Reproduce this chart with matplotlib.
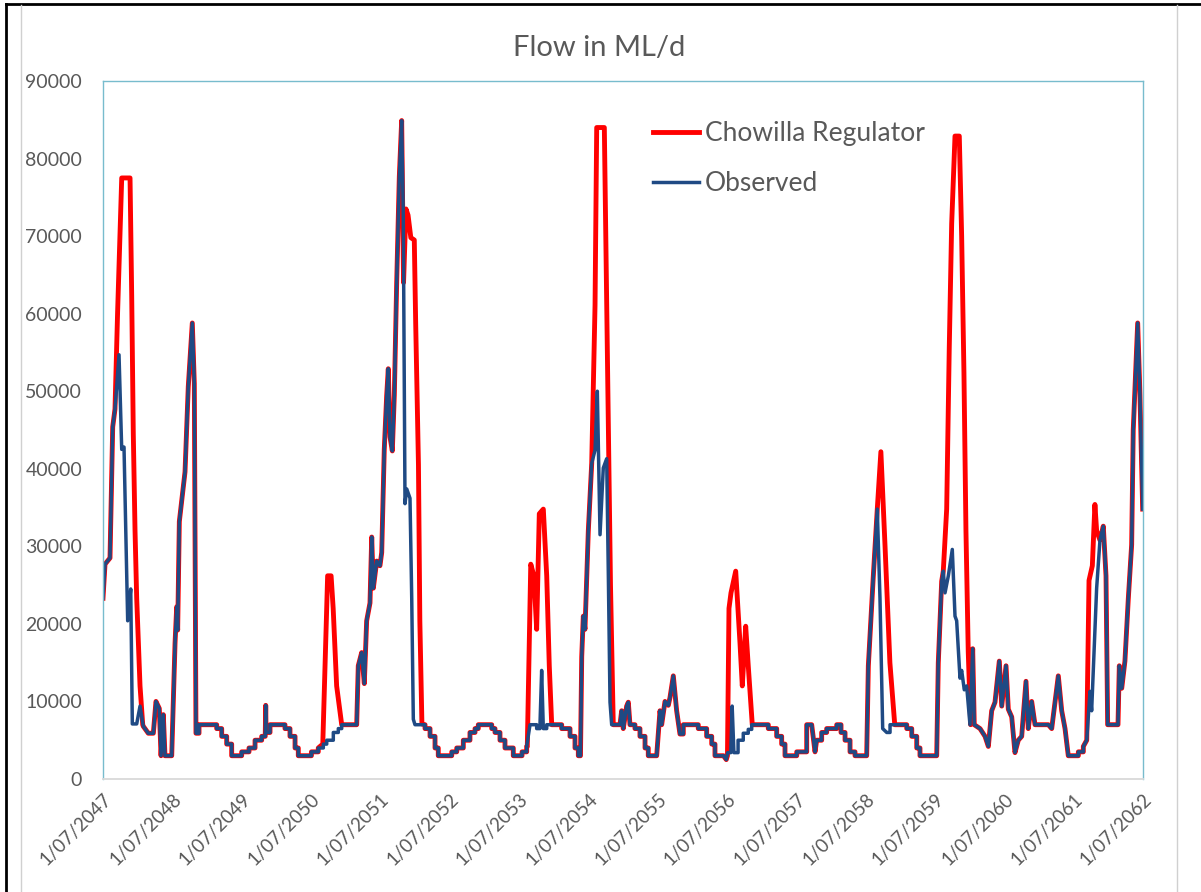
import numpy as np
import matplotlib
matplotlib.use("Agg")
import matplotlib.pyplot as plt
import matplotlib.dates as mdates
from matplotlib.lines import Line2D

plt.rcParams["font.family"] = ["Lato", "DejaVu Sans"]

# time in years after 1/07/2047, flow in ML/d
# third item: 1 = monthly step (flat, then jump), 0 = straight line to the point
observed = [
    (0.000, 23300, 0), (0.029, 27700, 0), (0.101, 28500, 0), (0.140, 45400, 0),
    (0.173, 47700, 0), (0.231, 54700, 0), (0.270, 42500, 0), (0.303, 42800, 0),
    (0.342, 26200, 0), (0.356, 20400, 0), (0.400, 24500, 0), (0.423, 7100, 0),
    (0.486, 7100, 0), (0.534, 9400, 0), (0.581, 6800, 0), (0.653, 5900, 0),
    (0.726, 5900, 0), (0.764, 10000, 0), (0.812, 9100, 0), (0.837, 3000, 0),
    (0.870, 8300, 0), (0.894, 3000, 0), (0.991, 3000, 0), (1.039, 17500, 0),
    (1.063, 22200, 0), (1.077, 19200, 0), (1.101, 33200, 0), (1.183, 39600, 0),
    (1.230, 50600, 0), (1.288, 58800, 0), (1.317, 51000, 0), (1.341, 5900, 0),
    (1.385, 7000, 1), (1.640, 6500, 1), (1.712, 5500, 1), (1.784, 4500, 1),
    (1.856, 3000, 1), (2.000, 3500, 1), (2.106, 4000, 1), (2.193, 5000, 1),
    (2.289, 5500, 1), (2.340, 5500, 0), (2.347, 9500, 0), (2.352, 6000, 0),
    (2.409, 7000, 1), (2.625, 6500, 1), (2.697, 5500, 1), (2.770, 4000, 1),
    (2.817, 3000, 1), (3.006, 3500, 1), (3.105, 4000, 1), (3.178, 4500, 1),
    (3.227, 5000, 1), (3.322, 6000, 1), (3.394, 6500, 1), (3.443, 7000, 1),
    (3.659, 7000, 0), (3.682, 14600, 0), (3.731, 16300, 0), (3.769, 12300, 0),
    (3.803, 20400, 0), (3.851, 22700, 0), (3.876, 31200, 0), (3.899, 24600, 0),
    (3.948, 28100, 0), (3.995, 27500, 0), (4.020, 29200, 0), (4.057, 42500, 0),
    (4.092, 49500, 0), (4.115, 52900, 0), (4.140, 44100, 0), (4.173, 42300, 0),
    (4.202, 49500, 0), (4.236, 64000, 0), (4.274, 77700, 0), (4.308, 84900, 0),
    (4.331, 72700, 0), (4.356, 35500, 0), (4.381, 37400, 0), (4.428, 36200, 0),
    (4.453, 23300, 0), (4.476, 7700, 0), (4.500, 7000, 0), (4.645, 6500, 1),
    (4.717, 5500, 1), (4.789, 4000, 1), (4.836, 3000, 1), (5.030, 3500, 1),
    (5.102, 4000, 1), (5.197, 5000, 1), (5.293, 6000, 1), (5.366, 6500, 1),
    (5.413, 7000, 1), (5.607, 6500, 1), (5.654, 6000, 1), (5.726, 5000, 1),
    (5.798, 4000, 1), (5.918, 3000, 1), (6.044, 3500, 1), (6.111, 4200, 1),
    (6.159, 7000, 0), (6.255, 6500, 1), (6.303, 7000, 1), (6.327, 14000, 0),
    (6.351, 6500, 0), (6.400, 7000, 1), (6.616, 6500, 1), (6.736, 5500, 1),
    (6.808, 4000, 1), (6.856, 3000, 1), (6.887, 3000, 0), (6.905, 15800, 0),
    (6.928, 21000, 0), (6.952, 19300, 0), (7.000, 32000, 0), (7.049, 40700, 0),
    (7.097, 42400, 0), (7.130, 50000, 0), (7.169, 31500, 0), (7.216, 40100, 0),
    (7.265, 41300, 0), (7.289, 26200, 0), (7.313, 9900, 0), (7.337, 7000, 0),
    (7.457, 7000, 0), (7.481, 8800, 0), (7.504, 6500, 0), (7.553, 9400, 0),
    (7.577, 9900, 0), (7.601, 7000, 0), (7.673, 6500, 1), (7.745, 5500, 1),
    (7.818, 4000, 1), (7.865, 3000, 1), (7.986, 3000, 0), (8.034, 8800, 0),
    (8.058, 7000, 0), (8.106, 10000, 0), (8.154, 9500, 0), (8.178, 10500, 0),
    (8.226, 13300, 0), (8.274, 8800, 0), (8.322, 5800, 0), (8.370, 7000, 1),
    (8.586, 6500, 1), (8.707, 5500, 1), (8.780, 4500, 1), (8.827, 3000, 1),
    (8.950, 3000, 0), (8.990, 2500, 0), (9.010, 3400, 0), (9.055, 3400, 0),
    (9.075, 9400, 0), (9.100, 3400, 0), (9.160, 5000, 1), (9.235, 5900, 1),
    (9.307, 6400, 1), (9.357, 7000, 1), (9.596, 6500, 1), (9.717, 5500, 1),
    (9.789, 4500, 1), (9.837, 3000, 1), (10.006, 3500, 1), (10.150, 7000, 1),
    (10.222, 7000, 0), (10.270, 3500, 0), (10.294, 5000, 0), (10.366, 6000, 1),
    (10.438, 6500, 1), (10.583, 7000, 1), (10.645, 6000, 1), (10.703, 5000, 1),
    (10.775, 3500, 1), (10.847, 3000, 1), (11.015, 3000, 0), (11.039, 14600, 0),
    (11.111, 26200, 0), (11.168, 34800, 0), (11.207, 23300, 0), (11.246, 6500, 0),
    (11.304, 6000, 0), (11.352, 7000, 1), (11.593, 6500, 1), (11.665, 5500, 1),
    (11.737, 4000, 1), (11.784, 3000, 1), (12.025, 3000, 0), (12.048, 15000, 0),
    (12.097, 25500, 0), (12.120, 26800, 0), (12.145, 24000, 0), (12.193, 26200, 0),
    (12.250, 29600, 0), (12.289, 21000, 0), (12.313, 20400, 0), (12.361, 13000, 0),
    (12.385, 14000, 0), (12.423, 11500, 0), (12.457, 12000, 0), (12.505, 7000, 0),
    (12.544, 16800, 0), (12.567, 7000, 0), (12.650, 6500, 0), (12.722, 5500, 0),
    (12.770, 4200, 0), (12.818, 8800, 0), (12.866, 9900, 0), (12.928, 15200, 0),
    (12.963, 9400, 0), (13.025, 14600, 0), (13.058, 9000, 0), (13.107, 8000, 0),
    (13.154, 3400, 0), (13.202, 5000, 0), (13.251, 5500, 0), (13.313, 12600, 0),
    (13.346, 6500, 0), (13.395, 10000, 0), (13.443, 7000, 0), (13.635, 7000, 0),
    (13.684, 6500, 0), (13.779, 13300, 0), (13.828, 8800, 0), (13.876, 6500, 0),
    (13.923, 3000, 0), (13.996, 3000, 0), (14.068, 3500, 1), (14.140, 4200, 1),
    (14.189, 5000, 0), (14.236, 11300, 0), (14.260, 8800, 0), (14.332, 24600, 0),
    (14.380, 30800, 0), (14.428, 32600, 0), (14.467, 26200, 0), (14.491, 7000, 0),
    (14.640, 7000, 0), (14.659, 14600, 0), (14.694, 11700, 0), (14.740, 15200, 0),
    (14.789, 23300, 0), (14.837, 30200, 0), (14.860, 45000, 0), (14.924, 58800, 0),
    (14.957, 49500, 0), (14.996, 34800, 0),
]

# Chowilla Regulator differs from observed only in these events
reg_2047 = [(0.173, 47700), (0.210, 60000), (0.270, 77500), (0.390, 77500), (0.414, 62300),
            (0.437, 44500), (0.462, 32000), (0.486, 23300), (0.534, 12000), (0.573, 7000)]
reg_2050 = [(3.170, 4500), (3.240, 26200), (3.290, 26200), (3.320, 22000), (3.370, 12000),
            (3.443, 7000)]
reg_2051 = [(4.308, 84900), (4.335, 64000), (4.370, 73500), (4.400, 72700), (4.440, 69800),
            (4.490, 69500), (4.510, 58800), (4.550, 40500), (4.570, 20400), (4.600, 7100)]
reg_2053 = [(6.120, 4200), (6.170, 27700), (6.215, 26200), (6.255, 19300), (6.293, 34200),
            (6.351, 34800), (6.400, 26200), (6.437, 14600), (6.472, 7000)]
reg_2054 = [(7.049, 40700), (7.097, 61100), (7.121, 84000), (7.231, 84000), (7.260, 65000),
            (7.290, 45000), (7.320, 25000), (7.360, 7000)]
reg_2056 = [(9.007, 3000), (9.029, 22000), (9.058, 24000), (9.126, 26800), (9.188, 17500),
            (9.221, 12000), (9.270, 19700), (9.307, 14600), (9.365, 7000)]
reg_2058 = [(11.168, 34800), (11.220, 42200), (11.280, 30000), (11.350, 15000), (11.420, 7000)]
reg_2059 = [(12.120, 26800), (12.169, 34800), (12.206, 55500), (12.241, 71600), (12.289, 82900),
            (12.351, 82900), (12.385, 70000), (12.418, 52400), (12.447, 32000), (12.480, 16400),
            (12.515, 7000)]
reg_2061 = [(14.189, 5000), (14.222, 25600), (14.270, 27500), (14.307, 35400), (14.332, 32000),
            (14.380, 30800)]
reg_events = [reg_2047, reg_2050, reg_2051, reg_2053, reg_2054, reg_2056, reg_2058, reg_2059, reg_2061]

years = list(range(2047, 2063))
yticks = list(range(0, 90001, 10000))


def expand(points):
    # turn the step flags into corner points
    xs, ys = [], []
    for t, v, s in points:
        if s and ys:
            xs.append(t)
            ys.append(ys[-1])
        xs.append(t)
        ys.append(v)
    return np.array(xs), np.array(ys, dtype=float)


def to_dates(t):
    base = np.datetime64("2047-07-01T00:00:00")
    return mdates.date2num(base + (np.asarray(t) * 365.25 * 86400).astype("timedelta64[s]"))


obs_t, obs_v = expand(observed)

# regulator = observed outside the event windows, event values inside
keep = np.ones(len(obs_t), dtype=bool)
ev_t, ev_v = [], []
for ev in reg_events:
    t0, t1 = ev[0][0], ev[-1][0]
    keep &= ~((obs_t >= t0) & (obs_t <= t1))
    ev_t += [p[0] for p in ev]
    ev_v += [p[1] for p in ev]
reg_t = np.concatenate([obs_t[keep], ev_t])
reg_v = np.concatenate([obs_v[keep], ev_v])
order = np.argsort(reg_t, kind="stable")
reg_t, reg_v = reg_t[order], reg_v[order]

W, H = 1201, 892
fig = plt.figure(figsize=(W / 100, H / 100), dpi=100)
ax = fig.add_axes([103 / W, (H - 779) / H, 1040 / W, 698 / H])

red = "#ff0000"
blue = "#1f4a84"
grey = "#595959"

ax.plot(to_dates(reg_t), reg_v, color=red, lw=3.5, solid_joinstyle="round",
        label="Chowilla Regulator")
ax.plot(to_dates(obs_t), obs_v, color=blue, lw=2.5, solid_joinstyle="round",
        label="Observed")

ax.set_xlim(to_dates([0.0, 15.0]))
ax.set_ylim(0, 90000)

tick_pos = mdates.date2num([np.datetime64(f"{y}-07-01") for y in years])
ax.set_xticks(tick_pos)
ax.set_xticklabels([f"1/07/{y}" for y in years], rotation=45, ha="right", va="top",
                   rotation_mode="anchor", fontsize=13.5, color=grey)
ax.set_yticks(yticks)
ax.set_yticklabels([str(v) for v in yticks], fontsize=14, color=grey)
ax.tick_params(axis="both", length=0)
ax.tick_params(axis="y", pad=15)
ax.tick_params(axis="x", pad=8)

for side in ["left", "top", "right"]:
    ax.spines[side].set_color("#78bccd")
    ax.spines[side].set_linewidth(1.0)
ax.spines["bottom"].set_color("#d9d9d9")
ax.spines["bottom"].set_linewidth(1.3)

fig.text(599 / W, 1 - 48 / H, "Flow in ML/d", ha="center", va="center", fontsize=21, color=grey)

leg = ax.legend(loc="upper left", bbox_to_anchor=(653 / W, 1 - 121 / H), bbox_transform=fig.transFigure,
                frameon=False, fontsize=19, handlelength=1.75, handletextpad=0.22,
                labelspacing=0.95, borderpad=0, borderaxespad=0)
for txt in leg.get_texts():
    txt.set_color(grey)

# outer frame of the screenshot
fig.add_artist(Line2D([6 / W, 6 / W], [0, 1 - 4 / H], color="black", lw=2))
fig.add_artist(Line2D([6 / W, 1], [1 - 4 / H, 1 - 4 / H], color="black", lw=2))
fig.add_artist(Line2D([21 / W, 21 / W], [0, 1 - 5 / H], color="#d0d0d0", lw=1))
fig.add_artist(Line2D([1177 / W, 1177 / W], [0, 1 - 5 / H], color="#d0d0d0", lw=1))

fig.savefig("out.png", dpi=100)
